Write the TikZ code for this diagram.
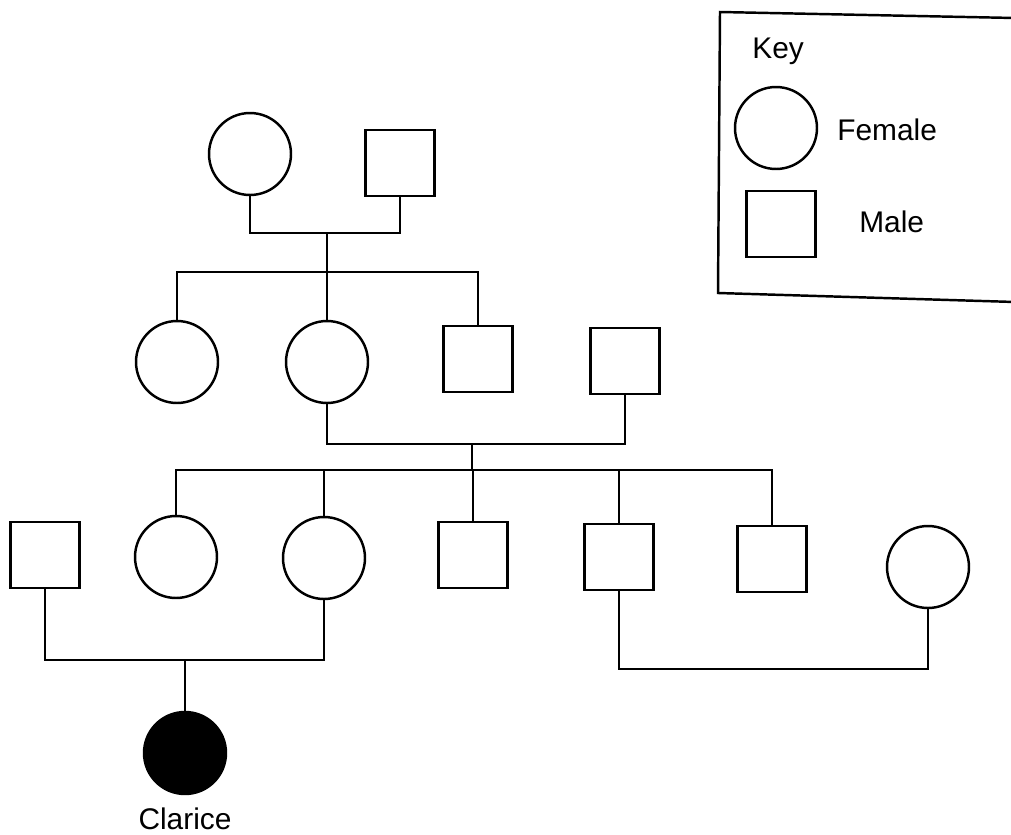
\documentclass[tikz,border=0pt]{standalone}
\usepackage{fontspec}
\setmainfont{Liberation Sans}
\usepackage{tikz}
\usetikzlibrary{positioning}

\begin{document}
\begin{tikzpicture}[
    x={(0.02cm,0cm)}, y={(0cm,-0.02cm)},
    female/.style={circle, draw, line width=1.4pt, inner sep=0pt, minimum size=1.64cm},
    male/.style={rectangle, draw, line width=1.4pt, inner sep=0pt,
      minimum width=1.38cm, minimum height=1.32cm},
    affected/.style={fill=black},
    link/.style={line width=1.6pt, line cap=rect},
    lbl/.style={font=\fontsize{17}{20}\selectfont, inner sep=0pt},
  ]
  \useasboundingbox (0,0) rectangle (1011,835);

  % grandparents
  \node[female] (gma) at (250,154) {};
  \node[male]   (gpa) at (400,163) {};
  \coordinate (m1) at (327,233);
  \coordinate (s1) at (327,272);
  \draw[link] (gma.south) |- (m1) -| (gpa.south);
  \draw[link] (m1) -- (s1);

  % their children, and the mother's partner
  \node[female] (aunt)  at (177,362) {};
  \node[female] (mum)   at (327,362) {};
  \node[male]   (uncle) at (478,359) {};
  \node[male]   (dad)   at (625,361) {};
  \draw[link] (aunt.north) |- (s1) -| (uncle.north);
  \draw[link] (s1) -- (mum.north);
  \coordinate (m2) at (472,444);
  \coordinate (s2) at (472,470);
  \draw[link] (mum.south) |- (m2) -| (dad.south);
  \draw[link] (m2) -- (s2);

  % third generation
  \node[male]   (husb) at (45,555) {};
  \node[female] (sisB) at (176,557) {};
  \node[female] (sisC) at (324,558) {};
  \node[male]   (broD) at (473,555) {};
  \node[male]   (broE) at (619,557) {};
  \node[male]   (broF) at (772,559) {};
  \node[female] (wife) at (928,567) {};
  \draw[link] (sisB.north) |- (s2) -| (broF.north);
  \foreach \n in {sisC,broD,broE}
    \draw[link] (\n.north) -- (\n.north |- s2);

  % marriages in the third generation
  \coordinate (m3) at (185,660);
  \draw[link] (husb.south) |- (m3) -| (sisC.south);
  \coordinate (m4) at (772,669);
  \draw[link] (broE.south) |- (m4) -| (wife.south);

  % Clarice
  \node[female, affected] (clarice) at (185,753) {};
  \draw[link] (m3) -- (clarice.north);
  \node[lbl, anchor=base] (clariceLbl) at (185,829) {Clarice};

  % key
  \draw[line width=1.4pt] (1015,18) -- (720,12) -- (718,293) -- (1015,302);
  \node[lbl, anchor=base west] (keyLbl) at (752,58) {Key};
  \node[female] (keyF) at (776,128) {};
  \node[lbl, anchor=base west] (femLbl) at (837,140) {Female};
  \node[male] (keyM) at (781,224) {};
  \node[lbl, anchor=base west] (maleLbl) at (859,232) {Male};
\end{tikzpicture}
\end{document}
